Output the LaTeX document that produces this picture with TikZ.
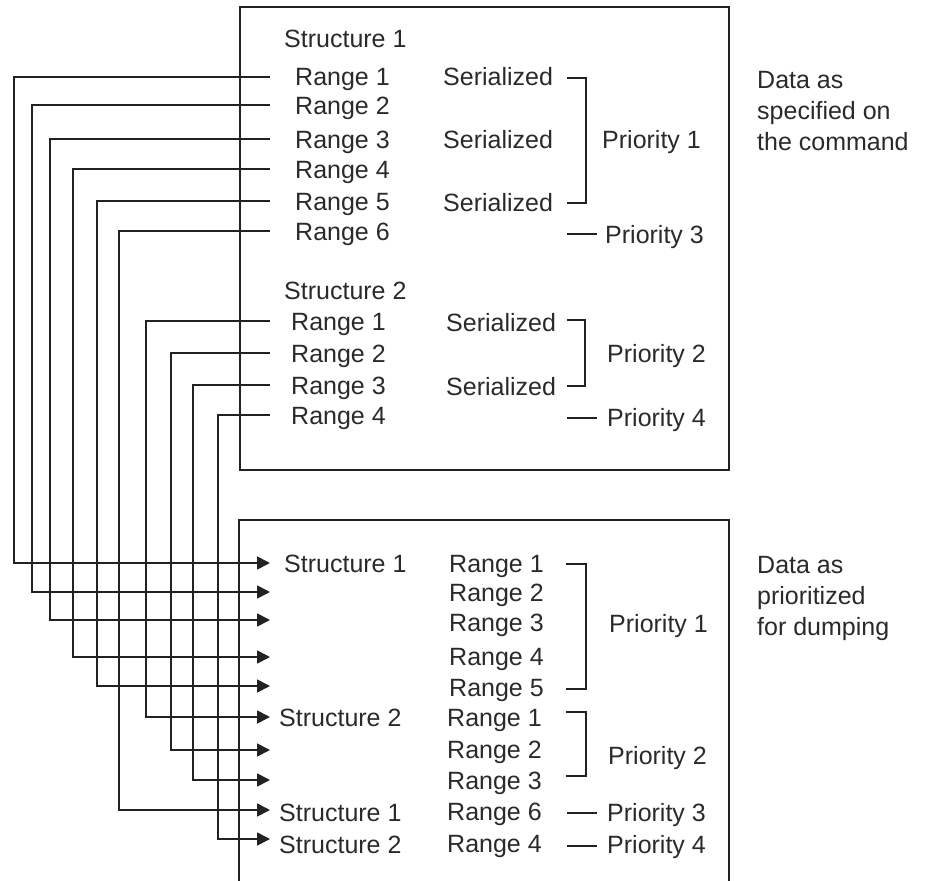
\documentclass[tikz,border=0pt]{standalone}
\usepackage{fontspec}
\setmainfont{Liberation Sans}
\usetikzlibrary{arrows.meta}
\definecolor{ink}{HTML}{222222}
\definecolor{txt}{HTML}{2a2a2a}
\begin{document}
\begin{tikzpicture}[x=1pt,y=-1pt,
  lbl/.style={anchor=west,inner sep=0pt,text height=18pt,text depth=0pt,font=\fontsize{25}{31}\selectfont,text=txt},
  note/.style={anchor=base west,inner sep=0pt,align=left,font=\fontsize{25}{31}\selectfont,text=txt},
  wire/.style={line width=1.7pt,draw=ink},
  arr/.style={wire,-{Triangle[length=13pt,width=13pt]}},
  frame/.style={line width=1.8pt,draw=ink}]
\useasboundingbox (0,0) rectangle (936,880);

% frames
\draw[frame] (240,7) rectangle (729,470);
\draw[frame] (239,882) -- (239,520) -- (729,520) -- (729,882);

% top box texts
\node[lbl] (s1) at (284,39) {Structure 1};
\node[lbl] (a1) at (295,77) {Range 1};
\node[lbl] (a2) at (295,105) {Range 2};
\node[lbl] (a3) at (295,139) {Range 3};
\node[lbl] (a4) at (295,169) {Range 4};
\node[lbl] (a5) at (295,201) {Range 5};
\node[lbl] (a6) at (295,231) {Range 6};
\node[lbl] (s2) at (284,290) {Structure 2};
\node[lbl] (b1) at (291,321) {Range 1};
\node[lbl] (b2) at (291,353) {Range 2};
\node[lbl] (b3) at (291,385) {Range 3};
\node[lbl] (b4) at (291,415) {Range 4};
\node[lbl] (z1) at (443,77) {Serialized};
\node[lbl] (z2) at (443,139) {Serialized};
\node[lbl] (z3) at (443,202) {Serialized};
\node[lbl] (z4) at (446,322) {Serialized};
\node[lbl] (z5) at (446,386) {Serialized};
\node[lbl] (tp1) at (602,139) {Priority 1};
\node[lbl] (tp3) at (605,234) {Priority 3};
\node[lbl] (tp2) at (607,353) {Priority 2};
\node[lbl] (tp4) at (607,417) {Priority 4};
\node[note] (n1) at (757,150) {Data as\\specified on\\the command};

% top brackets
\draw[wire] (567,78) -- (586,78) -- (586,203) -- (567,203);
\draw[wire] (567,234) -- (597,234);
\draw[wire] (567,320) -- (585,320) -- (585,386) -- (567,386);
\draw[wire] (567,418) -- (597,418);

% bottom box texts
\node[lbl] (c1) at (284,563) {Structure 1};
\node[lbl] (c2) at (279,717) {Structure 2};
\node[lbl] (c3) at (279,812) {Structure 1};
\node[lbl] (c4) at (279,844) {Structure 2};
\node[lbl] (d1) at (449,563) {Range 1};
\node[lbl] (d2) at (449,592) {Range 2};
\node[lbl] (d3) at (449,622) {Range 3};
\node[lbl] (d4) at (449,656) {Range 4};
\node[lbl] (d5) at (449,687) {Range 5};
\node[lbl] (d6) at (447,717) {Range 1};
\node[lbl] (d7) at (447,749) {Range 2};
\node[lbl] (d8) at (447,780) {Range 3};
\node[lbl] (d9) at (447,811) {Range 6};
\node[lbl] (d10) at (447,843) {Range 4};
\node[lbl] (bp1) at (609,623) {Priority 1};
\node[lbl] (bp2) at (608,755) {Priority 2};
\node[lbl] (bp3) at (607,812) {Priority 3};
\node[lbl] (bp4) at (607,844) {Priority 4};
\node[note] (n2) at (757,635) {Data as\\prioritized\\for dumping};

% bottom brackets
\draw[wire] (566,564) -- (586,564) -- (586,689) -- (566,689);
\draw[wire] (566,712) -- (586,712) -- (586,776) -- (566,776);
\draw[wire] (567,813) -- (597,813);
\draw[wire] (567,846) -- (597,846);

% connector ends
\coordinate (o1) at (270,77);
\coordinate (o2) at (270,105);
\coordinate (o3) at (270,139);
\coordinate (o4) at (270,169);
\coordinate (o5) at (270,201);
\coordinate (o6) at (270,231);
\coordinate (o7) at (270,321);
\coordinate (o8) at (270,353);
\coordinate (o9) at (270,385);
\coordinate (o10) at (270,415);
\coordinate (i1) at (270,563);
\coordinate (i2) at (270,592);
\coordinate (i3) at (270,620);
\coordinate (i4) at (270,657);
\coordinate (i5) at (270,686);
\coordinate (i6) at (270,717);
\coordinate (i7) at (270,750);
\coordinate (i8) at (270,780);
\coordinate (i9) at (270,810);
\coordinate (i10) at (270,839);

% connectors
\draw[arr] (o1) -- ++(-256,0) |- (i1);
\draw[arr] (o2) -- ++(-238,0) |- (i2);
\draw[arr] (o3) -- ++(-220,0) |- (i3);
\draw[arr] (o4) -- ++(-197,0) |- (i4);
\draw[arr] (o5) -- ++(-173,0) |- (i5);
\draw[arr] (o6) -- ++(-151,0) |- (i9);
\draw[arr] (o7) -- ++(-124,0) |- (i6);
\draw[arr] (o8) -- ++(-99,0) |- (i7);
\draw[arr] (o9) -- ++(-77,0) |- (i8);
\draw[arr] (o10) -- ++(-52,0) |- (i10);
\end{tikzpicture}
\end{document}
